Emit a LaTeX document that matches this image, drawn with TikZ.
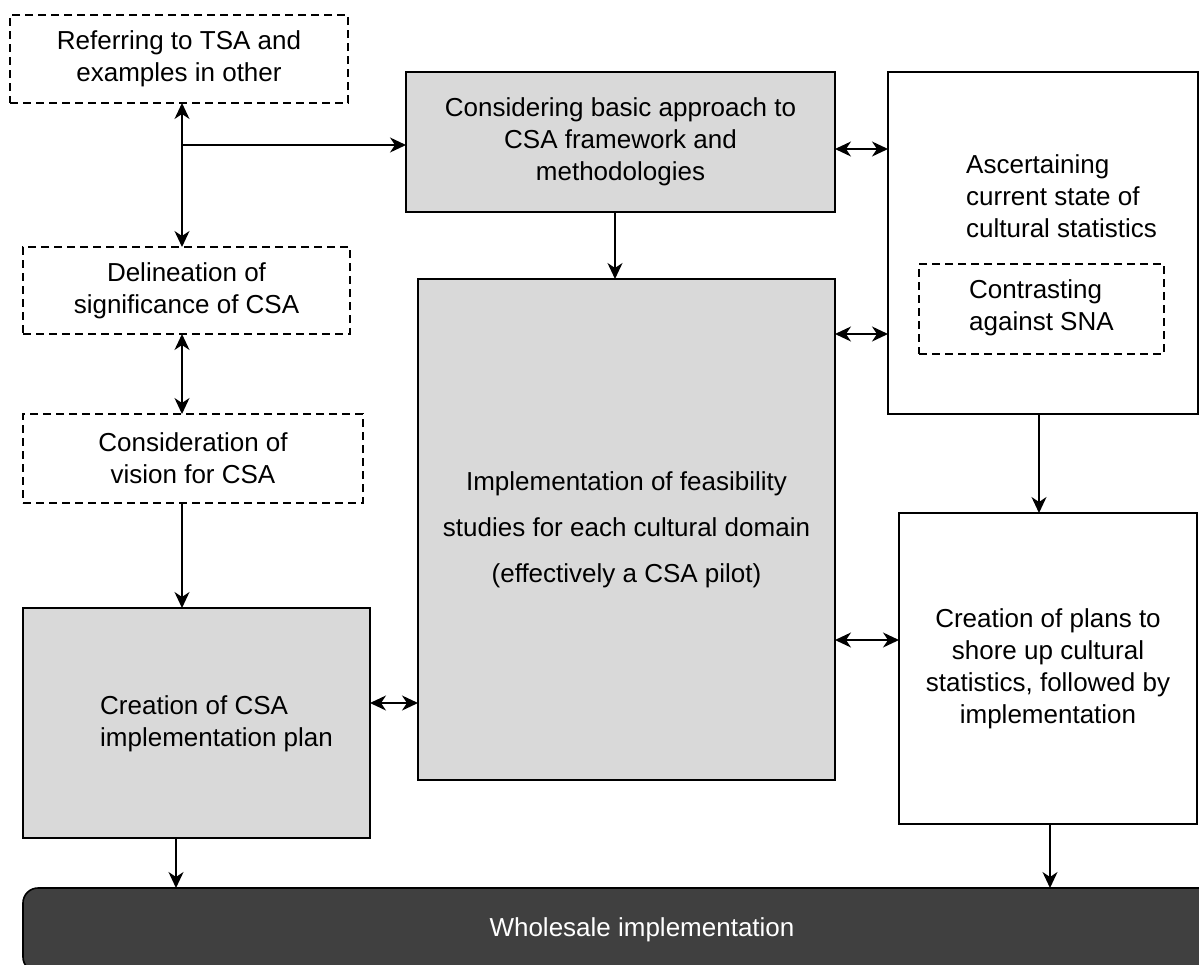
\documentclass[tikz,border=0pt]{standalone}
\usepackage{fontspec}
\setmainfont{Liberation Sans}
\usetikzlibrary{arrows.meta}
\definecolor{boxgray}{HTML}{D9D9D9}
\definecolor{darkbox}{HTML}{404040}
\begin{document}
\begin{tikzpicture}[x=1pt,y=-1pt,
  every node/.style={font=\fontsize{26}{32}\selectfont},
  base/.style={draw=black, line width=1.6pt, inner sep=0pt, outer sep=0pt, align=center},
  dashbox/.style={base, dash pattern=on 8pt off 5pt},
  graybox/.style={base, fill=boxgray},
  whitebox/.style={base, fill=white},
  lbl/.style={inner sep=0pt, align=left, anchor=west},
  conn/.style={line width=1.6pt, -{Stealth[length=16pt,width=15pt,inset=5pt]}},
  dconn/.style={line width=1.6pt, {Stealth[length=16pt,width=15pt,inset=5pt]}-{Stealth[length=16pt,width=15pt,inset=5pt]}}
]
\useasboundingbox (0,0) rectangle (1199,964);

% left column
\node[dashbox, minimum width=338pt, minimum height=88pt] (tsa) at (179,59) {Referring to TSA and\\examples in other};
\node[dashbox, minimum width=327pt, minimum height=87pt] (del) at (186.5,290.5) {Delineation of\\significance of CSA};
\node[dashbox, minimum width=340pt, minimum height=89pt] (con) at (193,458.5) {Consideration of\\vision for CSA};
\node[graybox, minimum width=347pt, minimum height=230pt] (plan) at (196.5,723) {};
\node[lbl] (plantxt) at (100,724) {Creation of CSA\\implementation plan};

% middle column
\node[graybox, minimum width=429pt, minimum height=140pt] (basic) at (620.5,142) {Considering basic approach to\\CSA framework and\\methodologies};
\node[graybox, minimum width=417pt, minimum height=501pt, font=\fontsize{26}{46}\selectfont] (feas) at (626.5,529.5) {Implementation of feasibility\\studies for each cultural domain\\(effectively a CSA pilot)};

% right column
\node[whitebox, minimum width=310pt, minimum height=342pt] (asc) at (1043,243) {};
\node[lbl] (asctxt) at (966,196.5) {Ascertaining\\current state of\\cultural statistics};
\node[dashbox, minimum width=245pt, minimum height=90pt] (sna) at (1041.5,309) {};
\node[lbl] (snatxt) at (969,308) {Contrasting\\against SNA};
\node[whitebox, minimum width=298pt, minimum height=311pt] (shore) at (1048,668.5) {Creation of plans to\\shore up cultural\\statistics, followed by\\implementation};

% bottom bar
\node[base, fill=darkbox, rounded corners=15pt, minimum width=1238pt, minimum height=84pt, text=white] (whole) at (642,930) {Wholesale implementation};

% connectors
\coordinate (j) at (182,145);
\draw[dconn] (j |- tsa.south) -- (j |- del.north);
\draw[conn] (j) -- (j -| basic.west);
\draw[dconn] (j |- del.south) -- (j |- con.north);
\draw[conn] (j |- con.south) -- (j |- plan.north);
\draw[conn] ([xshift=-5.5pt]basic.south) -- ([xshift=-5.5pt]basic.south |- feas.north);
\draw[dconn] ([yshift=-7pt]basic.east) -- ([yshift=-7pt]basic.east -| asc.west);
\draw[dconn] ([yshift=195.5pt]feas.east) -- ([yshift=195.5pt]feas.east -| asc.west);
\draw[dconn] ([yshift=-110.5pt]feas.east) -- ([yshift=-110.5pt]feas.east -| shore.west);
\draw[dconn] ([yshift=20pt]plan.east) -- ([yshift=20pt]plan.east -| feas.west);
\draw[conn] ([xshift=-4pt]asc.south) -- ([xshift=-4pt]asc.south |- shore.north);
\draw[conn] ([xshift=-20.5pt]plan.south) -- ([xshift=-20.5pt]plan.south |- whole.north);
\draw[conn] ([xshift=2pt]shore.south) -- ([xshift=2pt]shore.south |- whole.north);
\end{tikzpicture}
\end{document}
